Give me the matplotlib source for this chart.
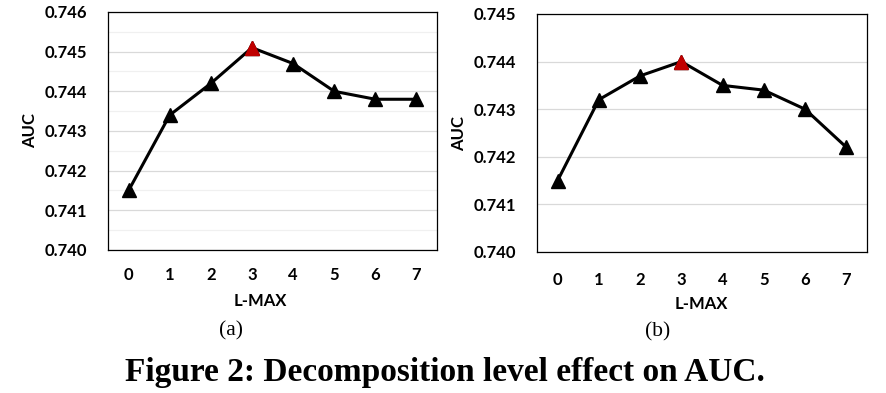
import matplotlib
matplotlib.use('Agg')
import matplotlib.pyplot as plt

levels = [0, 1, 2, 3, 4, 5, 6, 7]
auc_a = [0.7415, 0.7434, 0.7442, 0.7451, 0.7447, 0.7440, 0.7438, 0.7438]
auc_b = [0.7415, 0.7432, 0.7437, 0.7440, 0.7435, 0.7434, 0.7430, 0.7422]
best_idx = 3
yticks_a = [0.740, 0.741, 0.742, 0.743, 0.744, 0.745, 0.746]
yticks_b = [0.740, 0.741, 0.742, 0.743, 0.744, 0.745]

TICK_FONT = {'family': 'Lato', 'weight': 'bold', 'size': 12}
W, H = 887, 393


def draw_panel(ax, values, yticks, minor, xpad):
    ax.plot(levels, values, color='black', linewidth=2.2, marker='^',
            markersize=10, markerfacecolor='black', markeredgecolor='black', zorder=3)
    ax.plot([levels[best_idx]], [values[best_idx]], linestyle='none', marker='^',
            markersize=10, color='#c00000', zorder=4)
    ax.set_xlim(-0.5, 7.5)
    ax.set_ylim(yticks[0], yticks[-1])
    ax.set_xticks(levels)
    ax.set_yticks(yticks)
    ax.set_yticklabels([f'{t:.3f}' for t in yticks], fontdict=TICK_FONT)
    ax.set_xticklabels([str(l) for l in levels], fontdict=TICK_FONT)
    ax.tick_params(length=0, axis='y', pad=15)
    ax.tick_params(length=0, axis='x', pad=xpad)
    if minor:
        ax.set_yticks([t + 0.0005 for t in yticks[:-1]], minor=True)
        ax.tick_params(which='minor', length=0)
        ax.grid(axis='y', which='minor', color='#f0f0f0', linewidth=0.9)
    ax.grid(axis='y', which='major', color='#d9d9d9', linewidth=0.9)
    ax.set_axisbelow(True)
    for s in ax.spines.values():
        s.set_linewidth(0.9)
        s.set_color('black')


def px(x, y):
    return x / W, 1 - y / H


fig = plt.figure(figsize=(8.87, 3.93), dpi=100)
ax1 = fig.add_axes([0.1218, 0.3639, 0.3709, 0.6056])
ax2 = fig.add_axes([0.6054, 0.3588, 0.3720, 0.6056])
draw_panel(ax1, auc_a, yticks_a, True, 12.5)
draw_panel(ax2, auc_b, yticks_b, False, 14.5)

lab = dict(family='Lato', weight='bold', fontsize=12, ha='center', va='center')
fig.text(*px(260, 301), 'L-MAX', **lab)
fig.text(*px(701, 304), 'L-MAX', **lab)
fig.text(*px(30, 130), 'AUC', rotation=90, **lab)
fig.text(*px(459, 133), 'AUC', rotation=90, **lab)

fig.text(*px(231, 331), '(a)', ha='center', va='center', family='Liberation Serif', fontsize=15.5)
fig.text(*px(658, 332), '(b)', ha='center', va='center', family='Liberation Serif', fontsize=15.5)
fig.text(*px(445, 373), 'Figure 2: Decomposition level effect on AUC.', ha='center', va='center',
         family='Liberation Serif', weight='bold', fontsize=24)

fig.savefig('out.png', dpi=100)
